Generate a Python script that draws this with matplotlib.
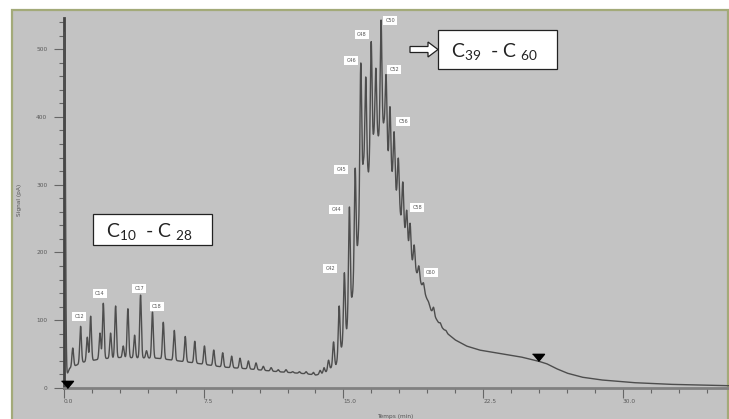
import numpy as np
import matplotlib
matplotlib.use("Agg")
import matplotlib.pyplot as plt
from matplotlib.patches import Rectangle, FancyArrow
from matplotlib.transforms import IdentityTransform
from matplotlib.ticker import MultipleLocator

# peaks: retention time (min) and apex signal (pA)
peak_times = [0.03, 0.47, 0.89, 1.25, 1.43, 1.93, 2.11, 2.50, 2.77, 3.18, 3.43, 3.79,
              4.11, 4.43, 4.75, 5.33, 5.92, 6.51, 7.02, 7.54, 8.04, 8.52, 9.00, 9.45,
              9.90, 10.31, 10.70, 11.12, 11.50, 11.92, 12.28, 12.64, 13.00, 13.39,
              13.75, 13.96, 14.20, 14.47, 14.77, 15.05, 15.32, 15.63, 15.93, 16.20,
              16.49, 16.74, 17.02, 17.29, 17.50, 17.72, 17.95, 18.19, 18.40, 18.58,
              18.80, 19.05, 19.30, 19.57, 19.84, 20.20, 20.50]
peak_heights = [525, 59, 91, 75, 106, 81, 125, 81, 121, 62, 117, 78,
                137, 55, 112, 97, 85, 76, 69, 62, 56, 52, 47, 44,
                40, 37, 32, 30, 27, 27, 24, 24, 24, 23,
                26, 30, 41, 68, 121, 170, 267, 324, 479, 459,
                511, 472, 543, 462, 415, 378, 339, 304, 262, 243,
                211, 180, 155, 127, 119, 96, 85]

# baseline (hump) under the peaks
base_times = [0.0, 0.1, 0.3, 1.0, 2.0, 3.0, 5.0, 7.0, 8.5, 10.0, 11.5, 13.0, 13.5,
              14.0, 14.35, 14.6, 14.9, 15.18, 15.5, 15.77, 16.07, 16.35, 16.62, 16.9,
              17.18, 17.42, 17.65, 17.9, 18.1, 18.31, 18.53, 18.7, 19.0, 19.3, 19.7,
              20.2, 20.6, 21.0, 21.6, 22.3, 23.4, 24.5, 25.42, 25.9, 26.4, 27.0,
              27.8, 28.8, 30.5, 32.4, 35.7]
base_values = [0, 15, 29, 38, 43, 45, 44, 37, 31, 28, 24, 21, 19,
               22, 30, 34, 59, 85, 140, 211, 332, 317, 370, 370,
               390, 333, 307, 280, 248, 229, 200, 185, 165, 145, 115,
               92, 80, 71, 62, 56, 51, 46, 40, 36, 29, 22,
               16, 12, 8, 5.5, 3.4]

label_names = ["C12", "C14", "C17", "C18", "C42", "C44", "C45", "C46",
               "C48", "C50", "C52", "C56", "C58", "C60"]
label_t = [0.81, 1.93, 4.03, 4.99, 14.29, 14.61, 14.88, 15.42,
           16.0, 17.51, 17.72, 18.21, 18.96, 19.71]
label_v = [106, 139, 147, 121, 177, 263, 323, 484,
           521, 543, 470, 394, 267, 171]

marker_t = [0.15, 25.45]
marker_v = [0, 40]

plt.rcParams['mathtext.default'] = 'regular'

W, H = 729, 419
fig = plt.figure(figsize=(W / 100, H / 100), dpi=100)

# grey panel with olive border
fig.add_artist(Rectangle((12, -2), 716, 411, transform=IdentityTransform(),
                         facecolor='#c3c3c3', edgecolor='#a3aa79', lw=1.6, zorder=0))

ax = fig.add_axes([64 / W, 31 / H, (729 - 64) / W, 370 / H])
ax.patch.set_visible(False)

t = np.linspace(0, 35.7, 9000)
sig = np.interp(t, base_times, base_values)
sigma = 0.045
for tp, hp in zip(peak_times, peak_heights):
    b = np.interp(tp, base_times, base_values)
    sig = sig + (hp - b) * np.exp(-0.5 * ((t - tp) / sigma) ** 2)

ax.plot(t, sig, color='#4d4d4d', lw=1.0, zorder=3)

tri = [(-1, 1.2), (1, 1.2), (0, 0)]
ax.plot(marker_t, marker_v, linestyle='none', marker=tri, markersize=10.3,
        color='black', clip_on=False, zorder=5)

for name, x, y in zip(label_names, label_t, label_v):
    ax.text(x, y, name, fontsize=3.6, color='#555555', ha='center', va='center',
            bbox=dict(boxstyle='square,pad=0.4', fc='white', ec='none'))

ax.set_xlim(0, 35.7)
ax.set_ylim(0, 546)
ax.xaxis.set_major_locator(MultipleLocator(7.5))
ax.xaxis.set_minor_locator(MultipleLocator(1.5))
ax.yaxis.set_major_locator(MultipleLocator(100))
ax.yaxis.set_minor_locator(MultipleLocator(20))
ax.xaxis.set_major_formatter(plt.FuncFormatter(lambda v, p: f"{v:.1f}"))
ax.tick_params(axis='both', which='major', length=7, width=0.8, color='#666666',
               labelsize=4.2, labelcolor='#5a5a5a')
ax.tick_params(axis='both', which='minor', length=3.8, width=0.8, color='#666666')
ax.tick_params(axis='y', which='major', pad=5)
ax.tick_params(axis='x', which='major', pad=1)
for lab in ax.get_xticklabels():
    lab.set_horizontalalignment('left')

for s in ['top', 'right']:
    ax.spines[s].set_visible(False)
ax.spines['bottom'].set_color('#808080')
ax.spines['bottom'].set_linewidth(2)
ax.spines['left'].set_color('#444444')
ax.spines['left'].set_linewidth(2)

fig.text(20 / W, 1 - 200 / H, 'Signal (pA)', rotation=90, fontsize=4.2,
         color='#555555', ha='center', va='center')
fig.text(395 / W, 1 - 416 / H, 'Temps (min)', fontsize=4.2,
         color='#555555', ha='center', va='center')

# range boxes
fig.add_artist(Rectangle((93, H - 245), 119, 31, transform=IdentityTransform(),
                         facecolor='white', edgecolor='#222222', lw=0.9, zorder=6))
fig.text(150 / W, 1 - 231 / H, r'C$_{10}$  - C $_{28}$', fontsize=14,
         family='Lato', color='#222222', ha='center', va='center', zorder=7)

fig.add_artist(Rectangle((438, H - 69), 119, 39, transform=IdentityTransform(),
                         facecolor='white', edgecolor='#222222', lw=0.9, zorder=6))
fig.text(495 / W, 1 - 51 / H, r'C$_{39}$  - C $_{60}$', fontsize=14,
         family='Lato', color='#222222', ha='center', va='center', zorder=7)

fig.add_artist(FancyArrow(410, H - 49.5, 28, 0, width=6, head_width=15,
                          head_length=10, length_includes_head=True,
                          transform=IdentityTransform(), facecolor='white',
                          edgecolor='#222222', lw=0.9, zorder=6))

fig.savefig('out.png', dpi=100)
